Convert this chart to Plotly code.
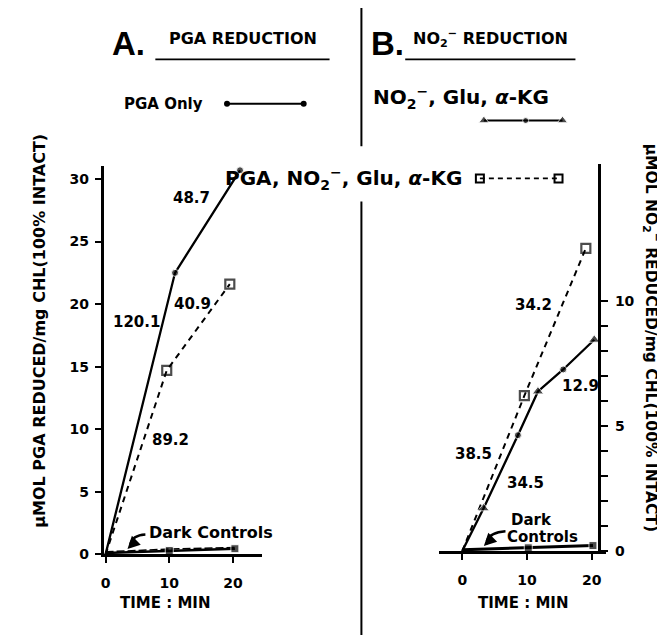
import plotly.graph_objects as go

W, H = 665, 635
FONT = "DejaVu Sans"
BLACK = "#000000"

# ---------------- data ----------------
# Panel A : PGA reduction (umol PGA reduced / mg chl)
a_pga_only_t = [0, 10.9, 21.1]
a_pga_only_y = [0, 22.5, 30.7]
a_pga_no2_t = [0, 9.6, 19.5]
a_pga_no2_y = [0, 14.7, 21.6]
a_dark_t = [0, 10, 20.3]
a_dark_y = [0.1, 0.3, 0.45]
a_dark2_t = [0, 10, 20.3]
a_dark2_y = [0.2, 0.42, 0.55]

# Panel B : NO2- reduction (umol NO2- reduced / mg chl)
b_no2_glu_t = [0, 3.3, 8.6, 11.7, 15.6, 20.4]
b_no2_glu_y = [0, 1.71, 4.64, 6.39, 7.27, 8.46]
b_no2_glu_sym = ["circle", "triangle-up", "circle", "triangle-up", "circle", "triangle-up"]
b_no2_glu_size = [0, 10, 7, 10, 7, 10]
b_pga_no2_t = [0, 9.6, 19.1]
b_pga_no2_y = [0, 6.22, 12.12]
b_dark_t = [0, 10.2, 20.2]
b_dark_y = [0.05, 0.13, 0.22]

# axis ticks
a_xticks = [0, 10, 20]
a_yticks = [0, 5, 10, 15, 20, 25, 30]
b_xticks = [0, 10, 20]
b_yticks = list(range(0, 11))
b_yticktext = ["0", "", "", "", "", "5", "", "", "", "", "10"]

# rate labels
a_rates = [("48.7", 13.5, 28.5), ("40.9", 13.6, 20.0), ("120.1", 4.8, 18.6), ("89.2", 10.2, 9.1)]
b_rates = [("34.2", 11.0, 9.85), ("12.9", 18.2, 6.61), ("38.5", 1.8, 3.89), ("34.5", 9.8, 2.74)]

# legend key samples (page pixel coordinates, on an overlay axis)
key_pga_only_x = [217, 294]
key_pga_only_y = [97, 97]
key_no2_x = [475, 517, 554]
key_no2_y = [114, 114, 114]
key_no2_sym = ["triangle-up", "circle", "triangle-up"]
key_pga_no2_x = [471, 550]
key_pga_no2_y = [172.6, 172.6]


def px(x):
    return x / W


def py(y):
    return 1 - y / H


fig = go.Figure()

LW = 2.3

# ---- panel A traces
fig.add_trace(go.Scatter(x=a_pga_only_t, y=a_pga_only_y, mode="lines+markers",
                         line=dict(color=BLACK, width=LW),
                         marker=dict(symbol="circle", size=[0, 7, 7], color=BLACK),
                         xaxis="x", yaxis="y", cliponaxis=False))
fig.add_trace(go.Scatter(x=a_pga_no2_t, y=a_pga_no2_y, mode="lines+markers",
                         line=dict(color=BLACK, width=2, dash="6px,5px"),
                         marker=dict(symbol="square-open", size=[0, 9, 9], color=BLACK,
                                     line=dict(width=2.2, color=BLACK)),
                         xaxis="x", yaxis="y", cliponaxis=False))
fig.add_trace(go.Scatter(x=a_dark2_t, y=a_dark2_y, mode="lines",
                         line=dict(color=BLACK, width=1.5, dash="8px,3px"),
                         xaxis="x", yaxis="y", cliponaxis=False))
fig.add_trace(go.Scatter(x=a_dark_t, y=a_dark_y, mode="lines+markers",
                         line=dict(color=BLACK, width=2.5),
                         marker=dict(symbol="square", size=[0, 8, 8], color=BLACK),
                         xaxis="x", yaxis="y", cliponaxis=False))

# ---- panel B traces
fig.add_trace(go.Scatter(x=b_pga_no2_t, y=b_pga_no2_y, mode="lines+markers",
                         line=dict(color=BLACK, width=2, dash="6px,5px"),
                         marker=dict(symbol="square-open", size=[0, 9, 9], color=BLACK,
                                     line=dict(width=2.2, color=BLACK)),
                         xaxis="x2", yaxis="y2", cliponaxis=False))
fig.add_trace(go.Scatter(x=b_no2_glu_t, y=b_no2_glu_y, mode="lines+markers",
                         line=dict(color=BLACK, width=LW),
                         marker=dict(symbol=b_no2_glu_sym, size=b_no2_glu_size, color=BLACK),
                         xaxis="x2", yaxis="y2", cliponaxis=False))
fig.add_trace(go.Scatter(x=b_dark_t, y=b_dark_y, mode="lines+markers",
                         line=dict(color=BLACK, width=3),
                         marker=dict(symbol="square", size=[0, 8, 8], color=BLACK),
                         xaxis="x2", yaxis="y2", cliponaxis=False))

# ---- legend keys (overlay axis in page pixels)
fig.add_trace(go.Scatter(x=key_pga_only_x, y=key_pga_only_y, mode="lines+markers",
                         line=dict(color=BLACK, width=2),
                         marker=dict(symbol="circle", size=6, color=BLACK),
                         xaxis="x3", yaxis="y3", cliponaxis=False))
fig.add_trace(go.Scatter(x=key_no2_x, y=key_no2_y, mode="lines+markers",
                         line=dict(color=BLACK, width=2),
                         marker=dict(symbol=key_no2_sym, size=[9, 6, 9], color=BLACK),
                         xaxis="x3", yaxis="y3", cliponaxis=False))
fig.add_trace(go.Scatter(x=key_pga_no2_x, y=key_pga_no2_y, mode="lines+markers",
                         line=dict(color=BLACK, width=1.8, dash="5px,4px"),
                         marker=dict(symbol="square-open", size=8, color=BLACK,
                                     line=dict(width=2, color=BLACK)),
                         xaxis="x3", yaxis="y3", cliponaxis=False))

tickfont = dict(family=FONT, size=14, color=BLACK, weight="bold")

# panel A axes: 0 min at 95 px, 6.4 px/min ; 0 at 553.3 px, 12.67 px/unit
a_x0, a_xs = 95, 6.4
a_y0, a_ys = 553.3, 12.67
b_x0, b_xs = 453.3, 6.5
b_y0, b_ys = 550, 25.3

fig.update_layout(
    width=W, height=H, autosize=False,
    margin=dict(l=0, r=0, t=0, b=0),
    paper_bgcolor="white", plot_bgcolor="rgba(0,0,0,0)",
    showlegend=False,
    font=dict(family=FONT, color=BLACK),
    xaxis=dict(domain=[px(93), px(252)],
               range=[(93 - a_x0) / a_xs, (252 - a_x0) / a_xs],
               anchor="y", showgrid=False, zeroline=False,
               showline=True, linewidth=2.5, linecolor=BLACK,
               tickvals=a_xticks, ticks="outside", ticklen=6, tickwidth=2, tickcolor=BLACK,
               tickfont=tickfont, ticklabelstandoff=8),
    yaxis=dict(domain=[py(a_y0), py(160)],
               range=[0, (a_y0 - 160) / a_ys],
               anchor="x", showgrid=False, zeroline=False,
               showline=True, linewidth=2.5, linecolor=BLACK,
               tickvals=a_yticks, ticks="outside", ticklen=6, tickwidth=2, tickcolor=BLACK,
               tickfont=tickfont, ticklabelstandoff=3),
    xaxis2=dict(domain=[px(430), px(598)],
                range=[(430 - b_x0) / b_xs, (598 - b_x0) / b_xs],
                anchor="y2", showgrid=False, zeroline=False,
                showline=True, linewidth=2.5, linecolor=BLACK,
                tickvals=b_xticks, ticks="outside", ticklen=6, tickwidth=2, tickcolor=BLACK,
                tickfont=tickfont, ticklabelstandoff=8),
    yaxis2=dict(domain=[py(b_y0), py(158)],
                range=[0, (b_y0 - 158) / b_ys],
                anchor="free", position=px(591), side="right",
                showgrid=False, zeroline=False,
                showline=True, linewidth=2.5, linecolor=BLACK,
                tickvals=b_yticks, ticktext=b_yticktext,
                ticks="outside", ticklen=7, tickwidth=2, tickcolor=BLACK,
                tickfont=tickfont, ticklabelstandoff=4),
    xaxis3=dict(domain=[0, 1], range=[0, W], anchor="y3", visible=False, fixedrange=True),
    yaxis3=dict(domain=[0, 1], range=[H, 0], anchor="x3", visible=False, fixedrange=True),
)

ann = []


def ptext(text, x, y, size, bold=True, angle=0, family=FONT, xanchor="center"):
    ann.append(dict(text=text, x=px(x), y=py(y), xref="paper", yref="paper",
                    showarrow=False, textangle=angle, xanchor=xanchor, yanchor="middle",
                    font=dict(family=family, size=size, color=BLACK,
                              weight="bold" if bold else "normal")))


# headers
ptext("A.", 118, 36, 33, family="Liberation Sans")
ptext("PGA REDUCTION", 233, 31, 16)
ptext("B.", 378, 36, 33, family="Liberation Sans")
ptext("NO<sub>2</sub><sup>−</sup> REDUCTION", 482, 31, 16)
ptext("PGA Only", 153, 97, 15)
ptext("NO<sub>2</sub><sup>−</sup>, Glu, <i>α</i>-KG", 452, 91, 20)
ptext("PGA, NO<sub>2</sub><sup>−</sup>, Glu, <i>α</i>-KG", 334, 173, 20)

# axis titles
ptext("μMOL PGA REDUCED/mg CHL(100% INTACT)", 29, 327, 16, angle=-90)
ptext("μMOL NO<sub>2</sub><sup>−</sup> REDUCED/mg CHL(100% INTACT)", 643, 334, 15.5, angle=90)
ptext("TIME : MIN", 155, 603, 15)
ptext("TIME : MIN", 515, 603, 15)

# rate labels
for t, x, y in a_rates:
    ann.append(dict(text=t, x=x, y=y, xref="x", yref="y", showarrow=False,
                    font=dict(family=FONT, size=15, color=BLACK, weight="bold")))
for t, x, y in b_rates:
    ann.append(dict(text=t, x=x, y=y, xref="x2", yref="y2", showarrow=False,
                    font=dict(family=FONT, size=15, color=BLACK, weight="bold")))

# dark controls labels
ann.append(dict(text="Dark Controls", x=16.5, y=1.71, xref="x", yref="y", showarrow=False,
                font=dict(family=FONT, size=16, color=BLACK, weight="bold")))
ann.append(dict(text="Dark", x=7.18, y=1.25, xref="x2", yref="y2", showarrow=False,
                xanchor="left", font=dict(family=FONT, size=15, color=BLACK, weight="bold")))
ann.append(dict(text="Controls", x=6.67, y=0.55, xref="x2", yref="y2", showarrow=False,
                xanchor="left", font=dict(family=FONT, size=15, color=BLACK, weight="bold")))

# arrow heads
ann.append(dict(text="", x=3.44, y=0.42, xref="x", yref="y", showarrow=True,
                ax=6, ay=-6, arrowhead=2, arrowsize=1, arrowwidth=2.5, arrowcolor=BLACK,
                standoff=0))
ann.append(dict(text="", x=3.34, y=0.2, xref="x2", yref="y2", showarrow=True,
                ax=6, ay=-6, arrowhead=2, arrowsize=1, arrowwidth=2.5, arrowcolor=BLACK,
                standoff=0))

fig.update_layout(annotations=ann)

shapes = [
    # divider
    dict(type="line", xref="paper", yref="paper", x0=px(352), x1=px(352), y0=py(0), y1=py(140),
         line=dict(color=BLACK, width=2)),
    dict(type="line", xref="paper", yref="paper", x0=px(352), x1=px(352), y0=py(196), y1=py(635),
         line=dict(color=BLACK, width=2)),
    # underlines
    dict(type="line", xref="paper", yref="paper", x0=px(145), x1=px(320), y0=py(52), y1=py(52),
         line=dict(color=BLACK, width=1.7)),
    dict(type="line", xref="paper", yref="paper", x0=px(396), x1=px(567), y0=py(52), y1=py(52),
         line=dict(color=BLACK, width=1.7)),
    # curved arrows
    dict(type="path", xref="x", yref="y", path="M 6.25,1.58 Q 4.2,1.52 3.9,0.8",
         line=dict(color=BLACK, width=2.5)),
    dict(type="path", xref="x2", yref="y2", path="M 6.68,0.79 Q 4.3,0.75 3.8,0.4",
         line=dict(color=BLACK, width=2.5)),
]
fig.update_layout(shapes=shapes)

fig.write_html("out.html")
